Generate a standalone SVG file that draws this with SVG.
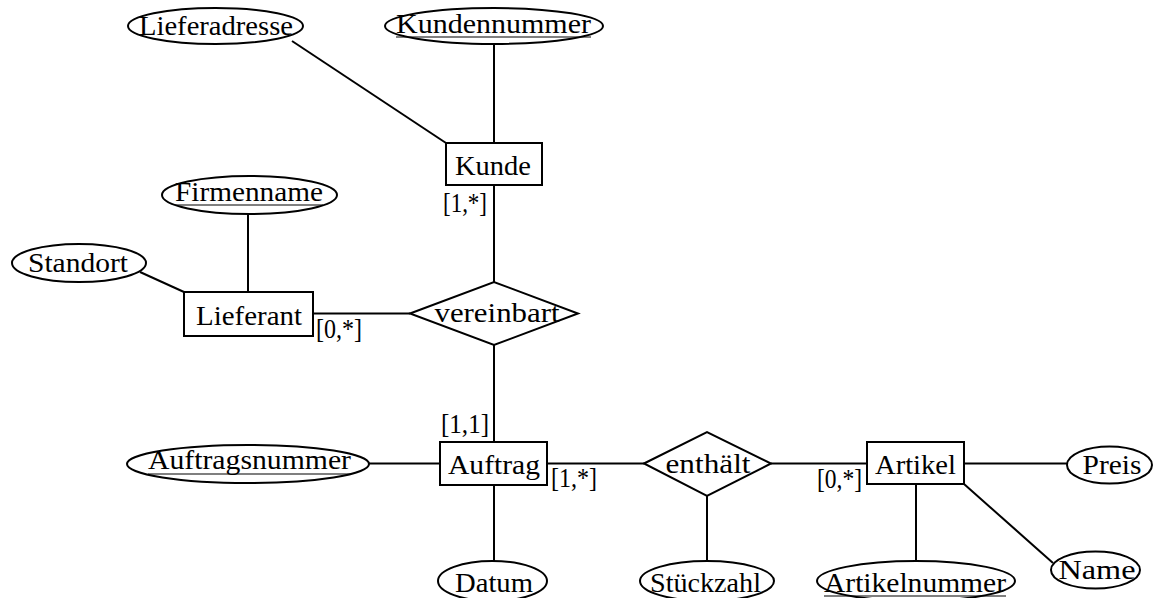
<svg xmlns="http://www.w3.org/2000/svg" width="1158" height="598" viewBox="0 0 1158 598">
<style>
.s{fill:#fff;stroke:#000;stroke-width:2}
.c line{stroke:#000;stroke-width:2}
.u{stroke:#000;stroke-width:1.2}
text{font-family:"Liberation Serif","Times New Roman",serif;font-size:28px;fill:#000;text-anchor:middle}
.l{font-size:27px;text-anchor:start}
</style>
<rect width="1158" height="598" fill="#fff"/>
<g id="connectors" class="c">
<line x1="292" y1="41" x2="446" y2="143"/>
<line x1="494" y1="45" x2="494" y2="143"/>
<line x1="494" y1="185" x2="494" y2="282"/>
<line x1="248" y1="214" x2="248" y2="292"/>
<line x1="140" y1="272" x2="184" y2="292"/>
<line x1="313" y1="313.5" x2="410" y2="313.5"/>
<line x1="494" y1="345" x2="494" y2="442"/>
<line x1="369" y1="463.5" x2="440" y2="463.5"/>
<line x1="494" y1="485" x2="494" y2="562"/>
<line x1="547" y1="463.5" x2="644" y2="463.5"/>
<line x1="707" y1="496" x2="707" y2="562"/>
<line x1="771" y1="463.5" x2="867" y2="463.5"/>
<line x1="916" y1="484" x2="916" y2="562"/>
<line x1="964" y1="463.5" x2="1067" y2="463.5"/>
<line x1="964" y1="484" x2="1053" y2="563"/>
</g>
<g id="lieferadresse"><ellipse class="s" cx="215.5" cy="26" rx="87.5" ry="18"/><text x="216" y="35" textLength="154" lengthAdjust="spacingAndGlyphs">Lieferadresse</text></g>
<g id="kundennummer"><ellipse class="s" cx="494" cy="26" rx="109" ry="18"/><text x="493.5" y="33" textLength="195" lengthAdjust="spacingAndGlyphs">Kundennummer</text><line class="u" x1="396" y1="37" x2="591" y2="37"/></g>
<g id="kunde"><rect class="s" x="446" y="143" width="96" height="42"/><text x="493" y="175" textLength="76" lengthAdjust="spacingAndGlyphs">Kunde</text></g>
<g id="firmenname"><ellipse class="s" cx="249.5" cy="195" rx="87.5" ry="19"/><text x="249" y="201" textLength="148" lengthAdjust="spacingAndGlyphs">Firmenname</text><line class="u" x1="175" y1="205" x2="323" y2="205"/></g>
<g id="standort"><ellipse class="s" cx="79" cy="263" rx="67" ry="19"/><text x="78" y="272" textLength="100" lengthAdjust="spacingAndGlyphs">Standort</text></g>
<g id="lieferant"><rect class="s" x="184" y="292" width="129" height="44"/><text x="249" y="325" textLength="106" lengthAdjust="spacingAndGlyphs">Lieferant</text></g>
<g id="vereinbart"><polygon class="s" points="410,313.5 494,282 578,313.5 494,345"/><text x="497" y="322" textLength="125" lengthAdjust="spacingAndGlyphs">vereinbart</text></g>
<g id="auftragsnummer"><ellipse class="s" cx="248" cy="464" rx="121" ry="19"/><text x="249.5" y="469" textLength="203" lengthAdjust="spacingAndGlyphs">Auftragsnummer</text><line class="u" x1="148" y1="474" x2="351" y2="474"/></g>
<g id="auftrag"><rect class="s" x="440" y="442" width="107" height="43"/><text x="494" y="474" textLength="92" lengthAdjust="spacingAndGlyphs">Auftrag</text></g>
<g id="datum"><ellipse class="s" cx="492.5" cy="581" rx="54.5" ry="20"/><text x="494" y="592" textLength="78" lengthAdjust="spacingAndGlyphs">Datum</text></g>
<g id="enthaelt"><polygon class="s" points="644,463.5 707,432 771,463.5 707,496"/><text x="708" y="473" textLength="85" lengthAdjust="spacingAndGlyphs">enthält</text></g>
<g id="stueckzahl"><ellipse class="s" cx="707" cy="581" rx="67" ry="20"/><text x="705.5" y="592" textLength="111" lengthAdjust="spacingAndGlyphs">Stückzahl</text></g>
<g id="artikel"><rect class="s" x="867" y="442" width="97" height="42"/><text x="915.5" y="474" textLength="81" lengthAdjust="spacingAndGlyphs">Artikel</text></g>
<g id="artikelnummer"><ellipse class="s" cx="916" cy="581" rx="99" ry="20"/><text x="915" y="592" textLength="182" lengthAdjust="spacingAndGlyphs">Artikelnummer</text><line class="u" x1="824" y1="596" x2="1006" y2="596"/></g>
<g id="preis"><ellipse class="s" cx="1109.5" cy="465" rx="42.5" ry="18.5"/><text x="1112" y="474" textLength="59" lengthAdjust="spacingAndGlyphs">Preis</text></g>
<g id="name"><ellipse class="s" cx="1095.5" cy="570" rx="44.5" ry="18.5"/><text x="1097" y="579" textLength="77" lengthAdjust="spacingAndGlyphs">Name</text></g>
<g id="cardinalities">
<text class="l" x="443" y="212" textLength="44" lengthAdjust="spacingAndGlyphs">[1,*]</text>
<text class="l" x="316" y="338" textLength="46" lengthAdjust="spacingAndGlyphs">[0,*]</text>
<text class="l" x="441" y="433" textLength="48" lengthAdjust="spacingAndGlyphs">[1,1]</text>
<text class="l" x="551" y="487" textLength="46" lengthAdjust="spacingAndGlyphs">[1,*]</text>
<text class="l" x="817" y="488" textLength="45" lengthAdjust="spacingAndGlyphs">[0,*]</text>
</g>
</svg>
